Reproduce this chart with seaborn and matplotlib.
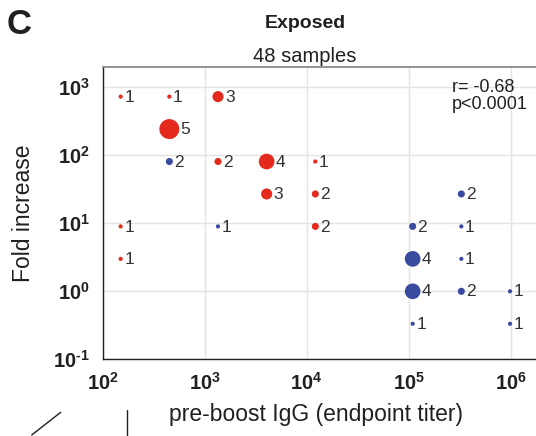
import numpy as np
import pandas as pd
import matplotlib
matplotlib.use("Agg")
import matplotlib.pyplot as plt
import seaborn as sns
from matplotlib.lines import Line2D

# ---- data ----
titer = [150, 150, 150,
         450, 450, 450,
         1350, 1350, 1350,
         4050, 4050,
         12150, 12150, 12150,
         109350, 109350, 109350, 109350,
         328050, 328050, 328050, 328050,
         984150, 984150]
fold = [729, 9, 3,
        729, 243, 81,
        729, 81, 9,
        81, 27,
        81, 27, 9,
        9, 3, 1, 0.333,
        27, 9, 3, 1,
        1, 0.333]
count = [1, 1, 1,
         1, 5, 2,
         3, 2, 1,
         4, 3,
         1, 2, 2,
         2, 4, 4, 1,
         2, 1, 1, 2,
         1, 1]
group = ["red", "red", "red",
         "red", "red", "blue",
         "red", "red", "blue",
         "red", "red",
         "red", "red", "red",
         "blue", "blue", "blue", "blue",
         "blue", "blue", "blue", "blue",
         "blue", "blue"]

x_ticks = [1e2, 1e3, 1e4, 1e5, 1e6]
x_labels = [r"$\mathbf{10^{2}}$", r"$\mathbf{10^{3}}$", r"$\mathbf{10^{4}}$",
            r"$\mathbf{10^{5}}$", r"$\mathbf{10^{6}}$"]
y_ticks = [1e-1, 1e0, 1e1, 1e2, 1e3]
y_labels = ["$\\mathbf{10^{\u2010 1}}$", r"$\mathbf{10^{0}}$", r"$\mathbf{10^{1}}$",
            r"$\mathbf{10^{2}}$", r"$\mathbf{10^{3}}$"]

df = pd.DataFrame({"titer": titer, "fold": fold, "count": count, "group": group})

# ---- style ----
sns.set_style("white")
plt.rcParams["font.family"] = ["Liberation Sans", "DejaVu Sans"]
plt.rcParams["mathtext.fontset"] = "custom"
plt.rcParams["mathtext.rm"] = "Liberation Sans"
plt.rcParams["mathtext.bf"] = "Liberation Sans:bold"

dark = "#231f20"
palette = {"red": "#e4291d", "blue": "#3a4a9e"}
sizes = {1: 9, 2: 26, 3: 64, 4: 128, 5: 207}

W, H = 536, 436
fig = plt.figure(figsize=(W / 100, H / 100), dpi=100)
ax = fig.add_axes([102.7 / W, 76.7 / H, 1 - 102.7 / W, 292 / H])

sns.scatterplot(data=df, x="titer", y="fold", hue="group", size="count",
                palette=palette, sizes=sizes, linewidth=0, legend=False,
                zorder=3, ax=ax)

ax.set(xscale="log", yscale="log")
ax.set_xlim(100, 10 ** 6.248)
ax.set_ylim(0.1, 10 ** 3.294)
ax.set_xticks(x_ticks)
ax.set_xticklabels(x_labels)
ax.set_yticks(y_ticks)
ax.set_yticklabels(y_labels)
ax.minorticks_off()
ax.set_xlabel("")
ax.set_ylabel("")

ax.grid(True, which="major", color="#e4e4e4", lw=1)
ax.set_axisbelow(True)
ax.tick_params(direction="out", length=7, width=1, color=dark,
               labelsize=14.5, labelcolor=dark, pad=2)

for s in ["left", "bottom"]:
    ax.spines[s].set_color(dark)
    ax.spines[s].set_linewidth(1)
ax.spines["top"].set_color("#8a8a8a")
ax.spines["top"].set_linewidth(1.3)
ax.spines["right"].set_visible(False)

# count labels next to each point
for xv, yv, c in zip(titer, fold, count):
    r = np.sqrt(sizes[c]) / 2
    ax.annotate(str(c), (xv, yv), xytext=(r + 1.0, -0.5), textcoords="offset points",
                ha="left", va="center", fontsize=12.5, color="#333333", zorder=4)

# stats text
fig.text(452 / W, 1 - 92 / H, "r= -0.68", fontsize=13, color=dark, va="baseline")
fig.text(452 / W, 1 - 109 / H, "p<0.0001", fontsize=13, color=dark, va="baseline")

# titles and labels
fig.text(7 / W, 1 - 34 / H, "C", fontsize=25, fontweight="bold", color=dark, va="baseline")
fig.text(305 / W, 1 - 28 / H, "Exposed", fontsize=14, fontweight="bold", color=dark,
         ha="center", va="baseline")
fig.text(305 / W, 1 - 62 / H, "48 samples", fontsize=14.5, color=dark,
         ha="center", va="baseline")
fig.text(24 / W, 1 - 213 / H, "Fold increase", fontsize=16.5, color=dark,
         rotation=90, ha="center", va="center")
fig.text(316 / W, 1 - 421 / H, "pre-boost IgG (endpoint titer)", fontsize=16.5,
         color=dark, ha="center", va="baseline")

# bits of neighbouring panels visible at the bottom left
fig.add_artist(Line2D([31.7 / W, 60.7 / W], [1 - 435 / H, 1 - 412.3 / H],
                      transform=fig.transFigure, color=dark, lw=1))
fig.add_artist(Line2D([126.7 / W, 126.7 / W], [1 - 410 / H, 0],
                      transform=fig.transFigure, color=dark, lw=1))

fig.savefig("out.png", dpi=100)
